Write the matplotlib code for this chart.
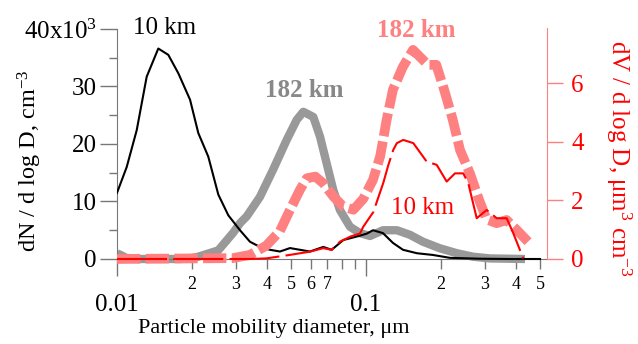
import matplotlib
matplotlib.use("Agg")
import matplotlib.pyplot as plt
from matplotlib.ticker import FixedLocator, FixedFormatter

plt.rcParams['font.family'] = ['Liberation Serif', 'DejaVu Serif']
plt.rcParams['mathtext.fontset'] = 'custom'
plt.rcParams['mathtext.rm'] = 'Liberation Serif'
plt.rcParams['mathtext.it'] = 'Liberation Serif:italic'
plt.rcParams['mathtext.bf'] = 'Liberation Serif:bold'

# ---- data: number distributions (left axis, x10^3 cm^-3) ----
x_n10 = [0.0100, 0.01094, 0.0120, 0.01316, 0.01465, 0.01607, 0.01763, 0.01965, 0.02121,
         0.02326, 0.02552, 0.02799, 0.03119, 0.03420, 0.03750, 0.04116, 0.04514, 0.04951,
         0.05430, 0.05957, 0.06737, 0.07280, 0.08110, 0.09177, 0.1006, 0.1067, 0.1170,
         0.1283, 0.1408, 0.1603, 0.1858, 0.2173, 0.2870, 0.3785, 0.5000]
n_10km = [11.5, 16.0, 22.4, 31.7, 36.6, 35.5, 32.3, 27.7, 21.9,
          17.8, 11.2, 7.6, 5.0, 3.0, 2.1, 1.6, 1.3, 1.9,
          1.6, 1.3, 2.1, 1.6, 3.3, 3.9, 4.4, 5.0, 4.5,
          2.8, 1.6, 1.0, 0.7, 0.2, 0.05, 0.0, 0.0]

x_n182 = [0.0100, 0.0109, 0.0120, 0.0150, 0.0180, 0.0196, 0.0212, 0.0255, 0.0292, 0.0313,
          0.03318, 0.0375, 0.04232, 0.04802, 0.0527, 0.05601, 0.06144, 0.06535, 0.06953,
          0.0739, 0.07862, 0.08626, 0.09461, 0.1038, 0.1170, 0.1332, 0.1502, 0.1694,
          0.1982, 0.2320, 0.2690, 0.3148, 0.4351]
n_182km = [1.0, 0.2, 0.0, 0.0, 0.0, 0.1, 0.4, 1.5, 4.5, 6.3,
           7.4, 10.8, 15.5, 20.7, 24.2, 25.6, 24.7, 21.3, 16.6,
           12.0, 8.5, 5.6, 4.5, 4.0, 5.0, 5.0, 4.2, 3.0,
           1.86, 1.0, 0.4, 0.1, 0.0]

# ---- data: volume distributions (right axis, um^3 cm^-3) ----
x_v182 = [0.0100, 0.0292, 0.0342, 0.0397, 0.0451, 0.0495, 0.0543, 0.0578, 0.0626, 0.0674,
          0.0740, 0.0812, 0.0890, 0.0975, 0.1067, 0.1140, 0.1210, 0.1283, 0.1408, 0.1545,
          0.1643, 0.1774, 0.1916, 0.2060, 0.2232, 0.2385, 0.2620, 0.2850, 0.3050, 0.3350,
          0.3670, 0.4030, 0.4475]
v_182km = [0.0, 0.03, 0.14, 0.45, 0.95, 1.67, 2.36, 2.75, 2.81, 2.58,
           2.13, 1.78, 1.68, 2.05, 2.7, 3.5, 4.74, 5.77, 6.56, 7.13,
           6.9, 6.62, 6.62, 5.77, 4.74, 3.72, 2.9, 2.0, 1.35, 1.22,
           1.33, 0.99, 0.59]

x_v10 = [0.0100, 0.0292, 0.0342, 0.0397, 0.0495, 0.0596, 0.0674, 0.0728, 0.0786, 0.0863,
         0.0946, 0.0975, 0.1070, 0.1174, 0.1229, 0.1287, 0.1330, 0.1412, 0.1549, 0.1753,
         0.1923, 0.2109, 0.2278, 0.2459, 0.2576, 0.2784, 0.3053, 0.3349, 0.3673, 0.3904,
         0.4282]
v_10km = [0.0, 0.0, 0.0, 0.02, 0.14, 0.25, 0.37, 0.31, 0.59, 0.76,
          0.87, 1.1, 1.6, 2.6, 3.2, 3.72, 3.95, 4.06, 3.95, 3.32,
          3.21, 2.64, 2.92, 2.92, 2.58, 1.39, 1.67, 1.39, 1.39, 0.88,
          0.02]

x_major = [0.01, 0.1]
x_major_labels = ['0.01', '0.1']
x_minor = [0.02, 0.03, 0.04, 0.05, 0.06, 0.07, 0.08, 0.09, 0.2, 0.3, 0.4, 0.5]
x_minor_labels = ['2', '3', '4', '5', '6', '7', '', '', '2', '3', '4', '5']
yl_ticks = [0, 10, 20, 30, 40]
yl_labels = ['0', '10', '20', '30', '40x10$^3$']
yl_minor = [5, 15, 25, 35]
yr_ticks = [0, 2, 4, 6]

W, H = 638, 344
fig = plt.figure(figsize=(W / 100, H / 100), dpi=100)
ax = fig.add_axes([117 / W, 68 / H, 430 / W, 248 / H])
ax2 = ax.twinx()

ax.plot(x_n182, n_182km, color='#999999', lw=6, solid_capstyle='butt', solid_joinstyle='round', zorder=2)
ax.plot(x_n10, n_10km, color='black', lw=1.5, zorder=3)

l1, = ax2.plot(x_v182, v_182km, color='#ff8080', lw=7, dash_capstyle='butt', dash_joinstyle='round')
l1.set_dashes((2.4, 0.55))
l2, = ax2.plot(x_v10, v_10km, color='#ff0000', lw=1.5)
l2.set_dashes((24, 3))

ax.set_xscale('log')
ax.set_xlim(0.01, 0.5333)
ax.set_ylim(-2.957, 40.17)
ax2.set_ylim(-0.58, 7.876)

for sp in ['top', 'right']:
    ax.spines[sp].set_visible(False)
for sp in ['top', 'left', 'bottom']:
    ax2.spines[sp].set_visible(False)

axis_gray = '#777777'
ax.spines['left'].set_bounds(0, 40)
ax.spines['left'].set_color(axis_gray)
ax.spines['bottom'].set_position(('data', 0))
ax.spines['bottom'].set_color(axis_gray)
ax2.spines['right'].set_bounds(0, 7.876)
ax2.spines['right'].set_color('#ff8080')

ax.xaxis.set_major_locator(FixedLocator(x_major))
ax.xaxis.set_major_formatter(FixedFormatter(x_major_labels))
ax.xaxis.set_minor_locator(FixedLocator(x_minor))
ax.xaxis.set_minor_formatter(FixedFormatter(x_minor_labels))
ax.tick_params(axis='x', which='major', direction='out', length=12.5, width=1, color=axis_gray,
               labelsize=18, pad=13)
ax.tick_params(axis='x', which='minor', direction='out', length=7, width=1, color=axis_gray,
               labelsize=13, pad=5)

ax.yaxis.set_major_locator(FixedLocator(yl_ticks))
ax.yaxis.set_major_formatter(FixedFormatter(yl_labels))
ax.yaxis.set_minor_locator(FixedLocator(yl_minor))
ax.tick_params(axis='y', which='major', direction='out', length=12.5, width=1, color=axis_gray,
               labelsize=18, pad=2)
ax.tick_params(axis='y', which='minor', direction='out', length=6, width=1, color=axis_gray)

ax2.yaxis.set_major_locator(FixedLocator(yr_ticks))
ax2.tick_params(axis='y', which='major', direction='out', length=11.5, width=1, color='#ff8080',
                labelcolor='#ff0000', labelsize=18, pad=6)
ax2.tick_params(axis='y', which='minor', length=0)

ax.set_xlabel('Particle mobility diameter, μm', fontsize=16)
ax.xaxis.set_label_coords((274 - 117) / 430, (276 - 328) / 248)
ax.xaxis.label.set_va('center')

ax.set_ylabel('dN / d log D, cm$^{-3}$', fontsize=17.5, va='center')
ax.yaxis.set_label_coords((30 - 117) / 430, (276 - 161) / 248)

ax2.set_ylabel('dV / d log D, μm$^{3}$ cm$^{-3}$', fontsize=18, color='#ff0000', rotation=270,
               va='center')
ax2.yaxis.set_label_coords((619 - 117) / 430, (276 - 158) / 248)


def ftext(px, py, s, **kw):
    fig.text(px / W, 1 - py / H, s, ha='center', va='baseline', **kw)


ftext(164.5, 33.5, '10 km', fontsize=18, color='black')
ftext(304, 97, '182 km', fontsize=18, color='#888888', fontweight='bold')
ftext(416, 37, '182 km', fontsize=18, color='#ff8080', fontweight='bold')
ftext(422.5, 213.5, '10 km', fontsize=18, color='#ff0000')

fig.savefig('out.png', dpi=100)
